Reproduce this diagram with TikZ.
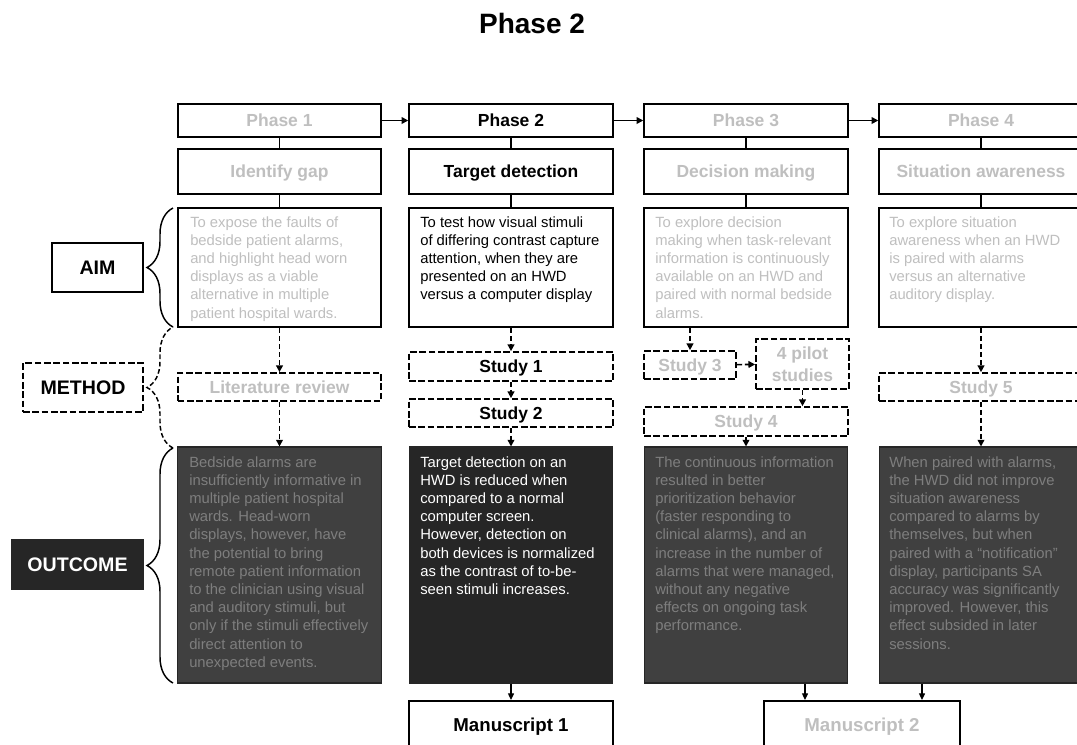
\documentclass[tikz,border=0pt]{standalone}
\usepackage{fontspec}
\setmainfont{Liberation Sans}
\usetikzlibrary{arrows.meta,calc,decorations.pathreplacing}
\definecolor{dimtext}{HTML}{BFBFBF}
\definecolor{darkfill}{HTML}{404040}
\definecolor{darkest}{HTML}{262626}
\definecolor{dimdark}{HTML}{7E7E7E}

\begin{document}
\begin{tikzpicture}[x=0.75pt,y=-0.75pt,
  cell/.style={draw, line width=1.5pt, fill=white, inner sep=0pt},
  dcell/.style={cell, line width=1.3pt, dash pattern=on 5pt off 2pt},
  sz/.style 2 args={minimum width=#1*0.75pt, minimum height=#2*0.75pt},
  hd/.style={font=\fontsize{13.1}{16}\selectfont\bfseries, text height=9.4pt, text depth=0pt},
  lbl/.style={font=\fontsize{14.7}{17}\selectfont\bfseries, text height=10.5pt, text depth=0pt},
  msc/.style={font=\fontsize{14}{17}\selectfont\bfseries, text height=10pt, text depth=0pt},
  dim/.style={text=dimtext},
  body/.style={font=\fontsize{11.1}{13.65}\selectfont, align=left, anchor=north west, inner sep=0pt},
  obox/.style={draw=black!85, line width=0.8pt, inner sep=0pt, sz={203.5}{236}},
  link/.style={line width=1.2pt},
  arr/.style={line width=1.2pt, -{Triangle[length=5pt,width=5pt]}},
  darr/.style={arr, dash pattern=on 4pt off 2pt},
  marr/.style={line width=0.9pt, -{Triangle[length=5pt,width=4.5pt]}},
  curly/.style={decorate, decoration={brace, amplitude=19.5pt}, line width=1.1pt},
]
\clip (0,0) rectangle (1077,744);
\fill[white] (0,0) rectangle (1077,744);

% title
\node[font=\fontsize{21}{25}\selectfont\bfseries, text height=15pt, text depth=0pt] (title) at (532,23) {Phase 2};

% phase row
\node[cell,hd,dim,sz={203.5}{33}] (p1) at (279.5,120.5) {Phase 1};
\node[cell,hd,sz={203.5}{33}]     (p2) at (511,120.5) {Phase 2};
\node[cell,hd,dim,sz={203.5}{33}] (p3) at (746,120.5) {Phase 3};
\node[cell,hd,dim,sz={203.5}{33}] (p4) at (981,120.5) {Phase 4};

% topic row
\node[cell,hd,dim,sz={203.5}{45}] (t1) at (279.5,171.5) {Identify gap};
\node[cell,hd,sz={203.5}{45}]     (t2) at (511,171.5) {Target detection};
\node[cell,hd,dim,sz={203.5}{45}] (t3) at (746,171.5) {Decision making};
\node[cell,hd,dim,sz={203.5}{45}] (t4) at (981,171.5) {Situation awareness};

% aim row
\node[cell,sz={203.5}{119}] (a1) at (279.5,267.5) {};
\node[cell,sz={203.5}{119}] (a2) at (511,267.5) {};
\node[cell,sz={203.5}{119}] (a3) at (746,267.5) {};
\node[cell,sz={203.5}{119}] (a4) at (981,267.5) {};

\node[body,dim] (a1t) at (190,216) {To expose the faults of\\bedside patient alarms,\\and highlight head worn\\displays as a viable\\alternative in multiple\\patient hospital wards.};
\node[body] (a2t) at (420,216) {To test how visual stimuli\\of differing contrast capture\\attention, when they are\\presented on an HWD\\versus a computer display};
\node[body,dim] (a3t) at (655,216) {To explore decision\\making when task-relevant\\information is continuously\\available on an HWD and\\paired with normal bedside\\alarms.};
\node[body,dim] (a4t) at (889,216) {To explore situation\\awareness when an HWD\\is paired with alarms\\versus an alternative\\auditory display.};

% method row
\node[dcell,hd,dim,sz={203.5}{28}] (lit) at (279.5,387) {Literature review};
\node[dcell,hd,sz={204}{29}] (s1) at (511,366.5) {Study 1};
\node[dcell,hd,sz={204}{28}] (s2) at (511,413) {Study 2};
\node[dcell,hd,dim,sz={92}{28}] (s3) at (690,365) {Study 3};
\node[dcell,dim,align=center,font=\fontsize{13.1}{16.3}\selectfont\bfseries,sz={93}{50}] (pil) at (802.5,364) {4 pilot\\studies};
\node[dcell,hd,dim,sz={204}{29}] (s4) at (746,421.5) {Study 4};
\node[dcell,hd,dim,sz={204}{28}] (s5) at (981,387) {Study 5};

% outcome row
\node[obox,fill=darkfill] (o1) at (279.5,565) {};
\node[obox,fill=darkest]  (o2) at (511,565) {};
\node[obox,fill=darkfill] (o3) at (746,565) {};
\node[obox,fill=darkfill] (o4) at (981,565) {};

\node[body,text=dimdark] (o1t) at (189,456) {Bedside alarms are\\insufficiently informative in\\multiple patient hospital\\wards. Head-worn\\displays, however, have\\the potential to bring\\remote patient information\\to the clinician using visual\\and auditory stimuli, but\\only if the stimuli effectively\\direct attention to\\unexpected events.};
\node[body,text=white] (o2t) at (420,456) {Target detection on an\\HWD is reduced when\\compared to a normal\\computer screen.\\However, detection on\\both devices is normalized\\as the contrast of to-be-\\seen stimuli increases.};
\node[body,text=dimdark] (o3t) at (655,456) {The continuous information\\resulted in better\\prioritization behavior\\(faster responding to\\clinical alarms), and an\\increase in the number of\\alarms that were managed,\\without any negative\\effects on ongoing task\\performance.};
\node[body,text=dimdark] (o4t) at (889,456) {When paired with alarms,\\the HWD did not improve\\situation awareness\\compared to alarms by\\themselves, but when\\paired with a “notification”\\display, participants SA\\accuracy was significantly\\improved. However, this\\effect subsided in later\\sessions.};

% manuscripts
\node[cell,msc,sz={204}{48}] (m1) at (511,725) {Manuscript 1};
\node[cell,msc,dim,sz={196}{48}] (m2) at (862,725) {Manuscript 2};

% row labels
\node[cell,lbl,sz={91}{49}] (aim) at (97.5,267.5) {AIM};
\node[dcell,lbl,sz={120}{49}] (method) at (83,387.5) {METHOD};
\node[cell,lbl,draw=darkest,fill=darkest,text=white,sz={131}{49}] (outcome) at (77.5,564.5) {OUTCOME};

% braces
\draw[curly] (173,327) -- (173,208);
\draw[curly, dash pattern=on 3.5pt off 2pt] (173,448) -- (173,327);
\draw[curly] (173,683) -- (173,448);

% phase sequence
\draw[arr] (p1) -- (p2);
\draw[arr] (p2) -- (p3);
\draw[arr] (p3) -- (p4);

% column links
\foreach \c in {1,2,3,4}{
  \draw[link] (p\c) -- (t\c);
  \draw[link] (t\c) -- (a\c);
}

% method flows
\draw[darr] (a1) -- (lit);
\draw[darr] (lit) -- (o1);
\draw[darr] (a2) -- (s1);
\draw[darr] (s1) -- (s2);
\draw[darr] (s2) -- (o2);
\draw[darr] (s3.north |- a3.south) -- (s3.north);
\draw[darr] (s3) -- (pil);
\draw[darr] (pil.south) -- (pil.south |- s4.north);
\draw[darr] (s4) -- (o3);
\draw[darr] (a4) -- (s5);
\draw[darr] (s5) -- (o4);

% outcomes to manuscripts
\coordinate (j3) at ($(o3.south)+(59,0)$);
\coordinate (j4) at ($(o4.south)+(-59,0)$);
\draw[marr] (o2) -- (m1);
\draw[marr] (j3) -- (j3 |- m2.north);
\draw[marr] (j4) -- (j4 |- m2.north);
\end{tikzpicture}
\end{document}
